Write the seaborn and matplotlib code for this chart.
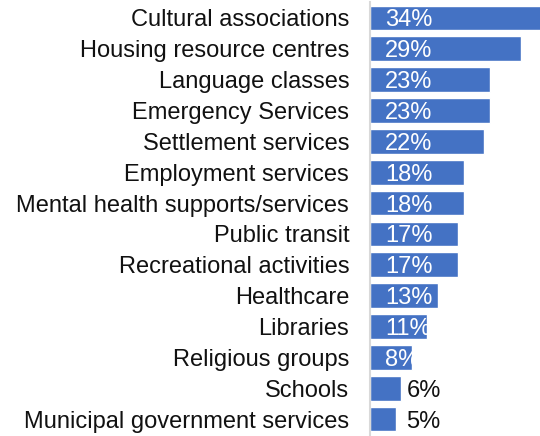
import matplotlib
matplotlib.use("Agg")
import matplotlib.pyplot as plt
import seaborn as sns
import pandas as pd

categories = [
    "Cultural associations",
    "Housing resource centres",
    "Language classes",
    "Emergency Services",
    "Settlement services",
    "Employment services",
    "Mental health supports/services",
    "Public transit",
    "Recreational activities",
    "Healthcare",
    "Libraries",
    "Religious groups",
    "Schools",
    "Municipal government services",
]
percentages = [34, 29, 23, 23, 22, 18, 18, 17, 17, 13, 11, 8, 6, 5]

df = pd.DataFrame({"service": categories, "pct": percentages})

sns.set_theme(style="white")
plt.rcParams["font.family"] = ["Liberation Sans", "DejaVu Sans"]

fig = plt.figure(figsize=(5.4, 4.36), dpi=100)
ax = fig.add_axes([370 / 540, 1.5 / 436, 170 / 540, 432 / 436])

sns.barplot(data=df, x="pct", y="service", orient="h", color="#4472C4",
            saturation=1, width=0.8, ax=ax)

ax.set_xlim(0, 32.7)
ax.set_ylim(len(categories) - 0.5, -0.5)
ax.set_xlabel("")
ax.set_ylabel("")
ax.set_xticks([])
ax.tick_params(axis="y", length=0, pad=15, labelsize=17, labelcolor="#111111")
for lbl in ax.get_yticklabels():
    lbl.set_verticalalignment("center_baseline")

for side in ("top", "right", "bottom"):
    ax.spines[side].set_visible(False)
ax.spines["left"].set_color("#d9d9d9")
ax.spines["left"].set_linewidth(1.5)

# value labels: white inside longer bars, black beside the short ones
for i, v in enumerate(percentages):
    if v >= 8:
        ax.text(2.9, i, f"{v}%", color="white", va="center_baseline",
                ha="left", fontsize=17, clip_on=True)
    else:
        ax.text(7.0, i, f"{v}%", color="#111111", va="center_baseline",
                ha="left", fontsize=17)

fig.savefig("out.png", dpi=100)
